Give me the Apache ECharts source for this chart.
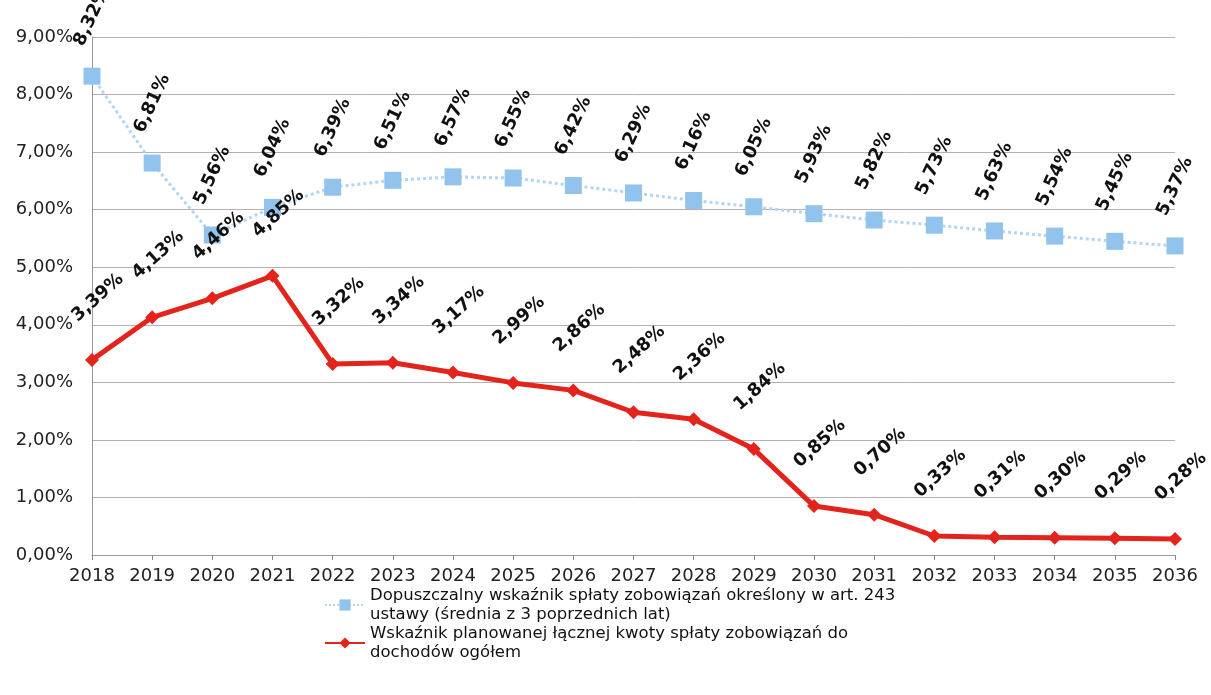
<!DOCTYPE html>
<html>
<head>
<meta charset="utf-8">
<script src="https://cdn.jsdelivr.net/npm/echarts@6/dist/echarts.min.js"></script>
<style>
html,body{margin:0;padding:0;background:#fff;}
#chart{width:1211px;height:695px;}
</style>
</head>
<body>
<div id="chart"></div>
<script>
const years = ['2018','2019','2020','2021','2022','2023','2024','2025','2026','2027','2028','2029','2030','2031','2032','2033','2034','2035','2036'];
const allowedRatio = [8.32, 6.81, 5.56, 6.04, 6.39, 6.51, 6.57, 6.55, 6.42, 6.29, 6.16, 6.05, 5.93, 5.82, 5.73, 5.63, 5.54, 5.45, 5.37];
const plannedRatio = [3.39, 4.13, 4.46, 4.85, 3.32, 3.34, 3.17, 2.99, 2.86, 2.48, 2.36, 1.84, 0.85, 0.70, 0.33, 0.31, 0.30, 0.29, 0.28];
const seriesNames = [
  'Dopuszczalny wskaźnik spłaty zobowiązań określony w art. 243\nustawy (średnia z 3 poprzednich lat)',
  'Wskaźnik planowanej łącznej kwoty spłaty zobowiązań do\ndochodów ogółem'
];

const pct = v => v.toFixed(2).replace('.', ',') + '%';
const font = '"DejaVu Sans", Arial, sans-serif';

const chart = echarts.init(document.getElementById('chart'));
chart.setOption({
  animation: false,
  backgroundColor: '#fff',
  grid: {left: 92, right: 36, top: 37, bottom: 140, containLabel: false},
  xAxis: {
    type: 'category',
    data: years,
    boundaryGap: false,
    axisLine: {show: true, lineStyle: {color: '#999', width: 1}},
    axisTick: {show: true, alignWithLabel: true, length: 5, lineStyle: {color: '#888'}},
    axisLabel: {color: '#222', fontSize: 18, fontFamily: font, margin: 12},
    splitLine: {show: false}
  },
  yAxis: {
    type: 'value',
    min: 0, max: 9, interval: 1,
    axisLine: {show: true, lineStyle: {color: '#999'}},
    axisTick: {show: false},
    axisLabel: {color: '#222', fontSize: 18, fontFamily: font, margin: 19, formatter: v => pct(v)},
    splitLine: {show: true, lineStyle: {color: '#b9aeb2', width: 1}}
  },
  legend: {
    orient: 'vertical',
    left: 319,
    top: 581,
    itemWidth: 40,
    itemHeight: 14,
    itemGap: 0,
    textStyle: {fontSize: 16.5, fontFamily: font, color: '#111', lineHeight: 19},
    data: [seriesNames[0], seriesNames[1]]
  },
  series: [
    {
      name: seriesNames[0],
      type: 'line',
      data: allowedRatio,
      symbol: 'rect',
      symbolSize: 17,
      itemStyle: {color: '#92c3ec'},
      lineStyle: {color: '#b3d5f2', width: 3, type: 'dotted'},
      label: {
        show: true,
        position: 'top',
        distance: 51,
        rotate: 65,
        align: 'center',
        verticalAlign: 'middle',
        fontSize: 18,
        fontWeight: 'bold',
        fontFamily: font,
        color: '#111',
        formatter: p => pct(p.value)
      },
      z: 2
    },
    {
      name: seriesNames[1],
      type: 'line',
      data: plannedRatio,
      symbol: 'diamond',
      symbolSize: 14,
      itemStyle: {color: '#e3241c'},
      lineStyle: {color: '#e3241c', width: 5},
      label: {
        show: true,
        position: 'top',
        distance: 50,
        offset: [8, 0],
        rotate: 42,
        align: 'center',
        verticalAlign: 'middle',
        fontSize: 18,
        fontWeight: 'bold',
        fontFamily: font,
        color: '#111',
        formatter: p => pct(p.value)
      },
      z: 3
    }
  ]
});
</script>
</body>
</html>
